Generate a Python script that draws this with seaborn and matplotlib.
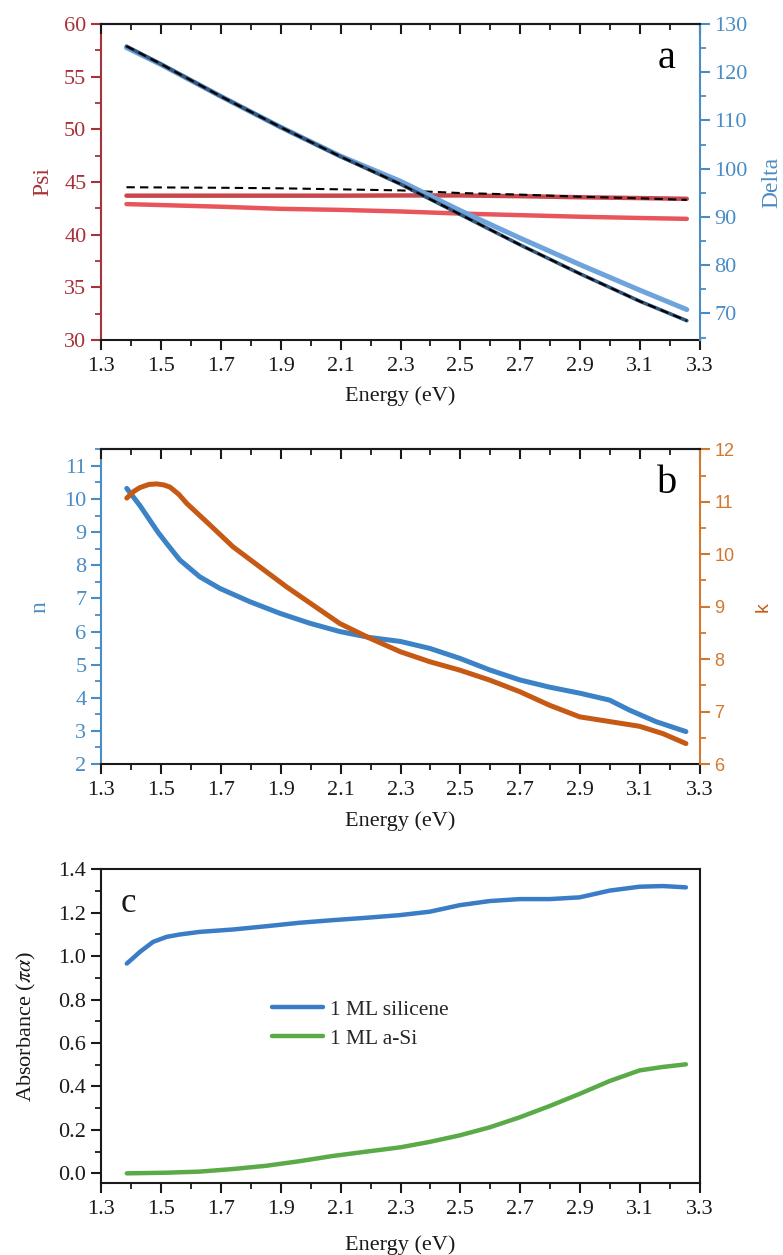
import numpy as np
import pandas as pd
import matplotlib
matplotlib.use("Agg")
import matplotlib.pyplot as plt
from matplotlib.ticker import MultipleLocator
import seaborn as sns

# ---------------- data ----------------
# (a) ellipsometric angles
e_psi_dark = [1.385, 1.7, 1.9, 2.1, 2.3, 2.5, 2.7, 2.9, 3.1, 3.256]
psi_dark = [43.7, 43.7, 43.7, 43.7, 43.72, 43.72, 43.65, 43.55, 43.47, 43.4]
e_psi_fit = [1.385, 1.7, 1.9, 2.1, 2.3, 2.5, 2.7, 2.9, 3.1, 3.256]
psi_fit = [44.5, 44.45, 44.4, 44.3, 44.2, 43.95, 43.8, 43.6, 43.45, 43.3]
e_psi_light = [1.385, 1.7, 1.9, 2.1, 2.3, 2.5, 2.7, 2.9, 3.1, 3.256]
psi_light = [42.9, 42.65, 42.45, 42.35, 42.2, 42.0, 41.85, 41.7, 41.58, 41.5]

e_delta = [1.385, 1.5, 1.7, 1.9, 2.1, 2.3, 2.5, 2.7, 2.9, 3.1, 3.256]
delta_meas = [125.1, 121.6, 115.0, 108.6, 102.6, 97.4, 91.3, 85.6, 80.1, 74.8, 70.8]
delta_fit = [125.4, 121.7, 115.0, 108.6, 102.5, 96.8, 90.5, 84.2, 78.2, 72.5, 68.5]

# (b) optical constants
e_n = [1.386, 1.43, 1.463, 1.49, 1.519, 1.563, 1.63, 1.697, 1.797, 1.897, 1.997,
       2.097, 2.197, 2.3, 2.398, 2.498, 2.598, 2.698, 2.798, 2.898, 2.998,
       3.064, 3.153, 3.253]
n_vals = [10.32, 9.8, 9.36, 9.0, 8.66, 8.16, 7.65, 7.3, 6.9, 6.55, 6.25,
          6.0, 5.82, 5.7, 5.49, 5.19, 4.84, 4.54, 4.32, 4.14, 3.93,
          3.63, 3.28, 2.98]
e_k = [1.386, 1.41, 1.43, 1.46, 1.486, 1.51, 1.53, 1.56, 1.586, 1.652, 1.741,
       1.83, 1.919, 2.008, 2.097, 2.197, 2.3, 2.398, 2.498, 2.598, 2.698,
       2.798, 2.898, 2.998, 3.098, 3.176, 3.253]
k_vals = [11.07, 11.2, 11.27, 11.33, 11.34, 11.32, 11.28, 11.14, 10.97, 10.62, 10.14,
          9.76, 9.38, 9.03, 8.68, 8.40, 8.14, 7.95, 7.79, 7.60, 7.38,
          7.12, 6.90, 6.81, 6.72, 6.58, 6.39]

# (c) absorbance
e_abs = [1.386, 1.41, 1.43, 1.474, 1.519, 1.563, 1.63, 1.741, 1.852, 1.963, 2.074,
         2.186, 2.297, 2.398, 2.498, 2.598, 2.698, 2.798, 2.898, 2.998, 3.098,
         3.176, 3.253]
abs_silicene = [0.966, 0.995, 1.02, 1.066, 1.089, 1.10, 1.112, 1.123, 1.138, 1.154, 1.166,
                1.177, 1.189, 1.205, 1.235, 1.254, 1.263, 1.263, 1.271, 1.302, 1.32,
                1.323, 1.317]
e_asi = [1.386, 1.519, 1.63, 1.741, 1.852, 1.963, 2.074, 2.186, 2.3, 2.398, 2.498,
         2.598, 2.698, 2.798, 2.898, 2.998, 3.098, 3.176, 3.253]
abs_asi = [0.0, 0.003, 0.008, 0.02, 0.035, 0.056, 0.08, 0.1, 0.12, 0.145, 0.175,
           0.212, 0.258, 0.31, 0.366, 0.425, 0.474, 0.49, 0.502]

energy_ticks = [1.3, 1.5, 1.7, 1.9, 2.1, 2.3, 2.5, 2.7, 2.9, 3.1, 3.3]

# ---------------- style ----------------
sns.set_theme(style="ticks")
plt.rcParams["font.family"] = ["Liberation Serif", "DejaVu Serif"]
plt.rcParams["mathtext.fontset"] = "stix"

SANS = ["Liberation Sans", "DejaVu Sans"]

RED_AX = "#a8323a"
BLUE_AX = "#4a8cc4"
ORANGE_AX = "#d2772e"
INK = "#1a1a1a"

fig = plt.figure(figsize=(7.83, 12.55), dpi=100)

L, W = 0.129, 0.765
ax_a = fig.add_axes([L, 0.7291, W, 0.2518])
ax_b = fig.add_axes([L, 0.3912, W, 0.2508])
ax_c = fig.add_axes([L, 0.0571, W, 0.2502])

TS = 16  # tick label size


def style_energy_axis(ax, xlabelpad):
    ax.set_xlim(1.3, 3.3)
    ax.set_xticks(energy_ticks)
    ax.set_xticklabels([f"{t:.1f}" for t in energy_ticks])
    ax.xaxis.set_minor_locator(MultipleLocator(0.1))
    ax.tick_params(axis="x", which="major", direction="out", length=7, width=1.5,
                   labelsize=TS, pad=5, colors=INK)
    ax.tick_params(axis="x", which="minor", direction="out", length=4.5, width=1.3,
                   colors=INK)
    ax.set_xlabel("Energy (eV)", fontsize=TS, color=INK, labelpad=xlabelpad)
    for s in ax.spines.values():
        s.set_linewidth(1.5)
        s.set_color(INK)


def top_inner_ticks(twin):
    # the twin shares x with its host; its x axis carries the inward ticks on top
    twin.xaxis.set_visible(True)
    twin.tick_params(axis="x", which="both", top=True, bottom=False, labeltop=False,
                     labelbottom=False, direction="in", color=INK)
    twin.tick_params(axis="x", which="major", length=7, width=1.5)
    twin.tick_params(axis="x", which="minor", length=4.5, width=1.3)


# ---------------- (a) Psi / Delta ----------------
ax_a2 = ax_a.twinx()
sns.lineplot(x=e_psi_light, y=psi_light, ax=ax_a, color="#e8555a", lw=3.2, sort=False)
sns.lineplot(x=e_psi_dark, y=psi_dark, ax=ax_a, color="#c8474c", lw=3.2, sort=False)
sns.lineplot(x=e_psi_fit, y=psi_fit, ax=ax_a, color="black", lw=1.5, sort=False,
             linestyle=(0, (4, 2.5)))
sns.lineplot(x=e_delta, y=delta_meas, ax=ax_a2, color="#6fa3dc", lw=3.6, sort=False)
sns.lineplot(x=e_delta, y=delta_fit, ax=ax_a2, color="#35567a", lw=2.6, sort=False)
sns.lineplot(x=e_delta, y=delta_fit, ax=ax_a2, color="black", lw=1.5, sort=False,
             linestyle=(0, (4, 2.5)))

ax_a.set_ylim(30, 60)
ax_a.set_yticks([30, 35, 40, 45, 50, 55, 60])
ax_a.yaxis.set_minor_locator(MultipleLocator(2.5))
ax_a.tick_params(axis="y", which="major", direction="out", length=7, width=1.5,
                 labelsize=TS, colors=RED_AX)
ax_a.tick_params(axis="y", which="minor", direction="out", length=4.5, width=1.3,
                 colors=RED_AX)
ax_a.set_ylabel("Psi", fontsize=TS + 1, color=RED_AX, labelpad=8)

ax_a2.set_ylim(64.5, 130)
ax_a2.set_yticks([70, 80, 90, 100, 110, 120, 130])
ax_a2.yaxis.set_minor_locator(MultipleLocator(5))
ax_a2.tick_params(axis="y", which="major", direction="out", length=7, width=1.5,
                  labelsize=TS, colors=BLUE_AX)
ax_a2.tick_params(axis="y", which="minor", direction="out", length=4.5, width=1.3,
                  colors=BLUE_AX)
ax_a2.set_ylabel("Delta", fontsize=TS + 1, color=BLUE_AX, labelpad=10)

style_energy_axis(ax_a, 8)
top_inner_ticks(ax_a2)
ax_a.spines["left"].set_color(RED_AX)
ax_a2.spines["left"].set_visible(False)
ax_a2.spines["right"].set_color(BLUE_AX)
ax_a2.spines["right"].set_linewidth(1.5)
ax_a2.spines["top"].set_linewidth(1.5)
ax_a2.spines["top"].set_color(INK)
ax_a2.spines["bottom"].set_visible(False)
ax_a.spines["right"].set_visible(False)
ax_a.text(0.945, 0.89, "a", transform=ax_a.transAxes, fontsize=29, ha="center",
          va="center", color="black")

# ---------------- (b) n / k ----------------
ax_b2 = ax_b.twinx()
sns.lineplot(x=e_n, y=n_vals, ax=ax_b, color="#3b83c6", lw=3.6, sort=False)
sns.lineplot(x=e_k, y=k_vals, ax=ax_b2, color="#c65a14", lw=3.6, sort=False)

ax_b.set_ylim(2, 11.5)
ax_b.set_yticks(range(2, 12))
ax_b.yaxis.set_minor_locator(MultipleLocator(0.5))
ax_b.tick_params(axis="y", which="major", direction="out", length=7, width=1.5,
                 labelsize=TS, colors=BLUE_AX)
ax_b.tick_params(axis="y", which="minor", direction="out", length=4.5, width=1.3,
                 colors=BLUE_AX)
ax_b.set_ylabel("n", fontsize=TS + 1, color=BLUE_AX, labelpad=10)

ax_b2.set_ylim(6, 12)
ax_b2.set_yticks(range(6, 13))
ax_b2.yaxis.set_minor_locator(MultipleLocator(0.5))
ax_b2.tick_params(axis="y", which="major", direction="out", length=7, width=1.5,
                  labelsize=13, colors=ORANGE_AX)
ax_b2.tick_params(axis="y", which="minor", direction="out", length=4.5, width=1.3,
                  colors=ORANGE_AX)
for lab in ax_b2.get_yticklabels():
    lab.set_fontfamily(SANS)
ax_b2.set_ylabel("k", fontsize=14, color="#c65a14", labelpad=14,
                 fontfamily=SANS, rotation=90)

style_energy_axis(ax_b, 8)
top_inner_ticks(ax_b2)
ax_b.spines["left"].set_color(BLUE_AX)
ax_b2.spines["left"].set_visible(False)
ax_b2.spines["right"].set_color(ORANGE_AX)
ax_b2.spines["right"].set_linewidth(1.5)
ax_b2.spines["top"].set_linewidth(1.5)
ax_b2.spines["top"].set_color(INK)
ax_b2.spines["bottom"].set_visible(False)
ax_b.spines["right"].set_visible(False)
ax_b.text(0.945, 0.89, "b", transform=ax_b.transAxes, fontsize=29, ha="center",
          va="center", color="black")

# ---------------- (c) absorbance ----------------
df_c = pd.concat([
    pd.DataFrame({"Energy": e_abs, "Absorbance": abs_silicene, "sample": "1 ML silicene"}),
    pd.DataFrame({"Energy": e_asi, "Absorbance": abs_asi, "sample": "1 ML a-Si"}),
])
sns.lineplot(data=df_c, x="Energy", y="Absorbance", hue="sample", ax=ax_c,
             palette={"1 ML silicene": "#3a7cc6", "1 ML a-Si": "#5aab48"},
             lw=3.2, sort=False, estimator=None)
c_ticks = [0.0, 0.2, 0.4, 0.6, 0.8, 1.0, 1.2, 1.4]
ax_c.set_ylim(-0.046, 1.4)
ax_c.set_yticks(c_ticks)
ax_c.set_yticklabels([f"{v:.1f}" for v in c_ticks])
ax_c.yaxis.set_minor_locator(MultipleLocator(0.1))
ax_c.tick_params(axis="y", which="major", direction="out", length=7, width=1.5,
                 labelsize=TS, colors=INK)
ax_c.tick_params(axis="y", which="minor", direction="out", length=4.5, width=1.3,
                 colors=INK)
ax_c.set_ylabel(r"Absorbance ($\pi\alpha$)", fontsize=TS, color=INK, labelpad=15)
style_energy_axis(ax_c, 12)
ax_c.text(0.045, 0.89, "c", transform=ax_c.transAxes, fontsize=25, ha="center",
          va="center", color=INK)
leg = ax_c.legend(loc="center left", bbox_to_anchor=(0.285, 0.507), frameon=False,
                  fontsize=15.5, handlelength=2.4, handletextpad=0.3, borderpad=0,
                  borderaxespad=0, labelspacing=0.4, title=None)
for line in leg.get_lines():
    line.set_linewidth(3.2)

fig.savefig("out.png", dpi=100)
